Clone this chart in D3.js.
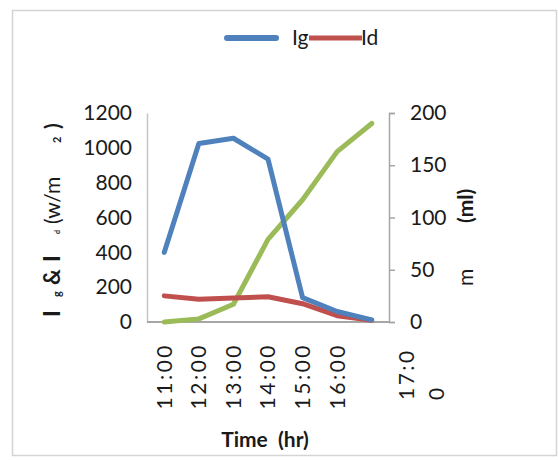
<!DOCTYPE html>
<html>
<head>
<meta charset="utf-8">
<script src="https://cdn.jsdelivr.net/npm/d3@7"></script>
<style>
  html, body { margin: 0; padding: 0; background: #fff; }
  svg { display: block; font-family: Lato, "Liberation Sans", sans-serif; }
</style>
</head>
<body>
<svg id="chart" width="558" height="460"></svg>
<script>
// Hourly readings
const times = ["11:00", "12:00", "13:00", "14:00", "15:00", "16:00", "17:00"];
const ig = [400, 1025, 1055, 935, 140, 60, 12];     // global radiation, W/m²
const id = [150, 130, 138, 145, 105, 36, 10];       // diffuse radiation, W/m²
const yieldMl = [0, 3, 17, 79, 117, 163, 190];      // collected volume, ml
const leftTicks = [0, 200, 400, 600, 800, 1000, 1200];
const rightTicks = [0, 50, 100, 150, 200];

const colors = { ig: "#4F81BD", id: "#C0504D", ml: "#9BBB59" };

const svg = d3.select("#chart");
const plot = { left: 147, right: 389, top: 113, bottom: 322 };

// chart frame
svg.append("rect")
  .attr("x", 12.5).attr("y", 10.5).attr("width", 544).attr("height", 445)
  .attr("fill", "#fff").attr("stroke", "#d4d4d4").attr("stroke-width", 1.5);

const x = d3.scalePoint().domain(times).range([plot.left, plot.right]).padding(0.5);
const yL = d3.scaleLinear().domain([0, 1200]).range([plot.bottom, plot.top]);
const yR = d3.scaleLinear().domain([0, 200]).range([plot.bottom, plot.top]);

// left axis
const gL = svg.append("g").attr("transform", `translate(${plot.left},0)`)
  .call(d3.axisLeft(yL).tickValues(leftTicks).tickFormat(d3.format("d"))
    .tickSize(0).tickPadding(15).tickSizeOuter(0));
gL.select(".domain").attr("stroke", "#c4c4c4").attr("stroke-width", 1.5);
gL.selectAll("text").attr("font-size", 21).attr("fill", "#1a1a1a").attr("font-family", "Lato");

// right axis
const gR = svg.append("g").attr("transform", `translate(${plot.right},0)`)
  .call(d3.axisRight(yR).tickValues(rightTicks).tickFormat(d3.format("d"))
    .tickSize(6).tickPadding(15).tickSizeOuter(6));
gR.select(".domain").attr("stroke", "#a6a6a6").attr("stroke-width", 1.5);
gR.selectAll(".tick line").attr("stroke", "#a6a6a6").attr("stroke-width", 1.5);
gR.selectAll("text").attr("font-size", 21).attr("fill", "#1a1a1a").attr("font-family", "Lato");

// x axis baseline
svg.append("line")
  .attr("x1", plot.left).attr("x2", plot.right)
  .attr("y1", plot.bottom).attr("y2", plot.bottom)
  .attr("stroke", "#a6a6a6").attr("stroke-width", 2);

// category labels, rotated
const labelTop = 343;
const wrapShift = 35;
times.forEach((t, i) => {
  if (i < times.length - 1) {
    svg.append("text")
      .attr("transform", `translate(${x(t)},${labelTop}) rotate(-90)`)
      .attr("text-anchor", "end").attr("dy", "0.35em")
      .attr("font-size", 21).attr("letter-spacing", 2.5).attr("fill", "#1a1a1a")
      .text(t);
  } else {
    // last label wraps onto a second line
    const tx = svg.append("text")
      .attr("transform", `translate(${x(t) + wrapShift},400) rotate(-90)`)
      .attr("text-anchor", "start")
      .attr("font-size", 21).attr("letter-spacing", 2.5).attr("fill", "#1a1a1a");
    tx.append("tspan").attr("x", 0).attr("dy", "0.35em").text(t.slice(0, 4));
    tx.append("tspan").attr("x", 0).attr("dy", 30).text(t.slice(4));
  }
});

// series
const lineL = d3.line().x((d, i) => x(times[i])).y(d => yL(d));
const lineR = d3.line().x((d, i) => x(times[i])).y(d => yR(d));

svg.append("path").datum(yieldMl).attr("d", lineR)
  .attr("fill", "none").attr("stroke", colors.ml).attr("stroke-width", 5)
  .attr("stroke-linejoin", "round").attr("stroke-linecap", "round");
svg.append("path").datum(id).attr("d", lineL)
  .attr("fill", "none").attr("stroke", colors.id).attr("stroke-width", 5)
  .attr("stroke-linejoin", "round").attr("stroke-linecap", "round");
svg.append("path").datum(ig).attr("d", lineL)
  .attr("fill", "none").attr("stroke", colors.ig).attr("stroke-width", 5)
  .attr("stroke-linejoin", "round").attr("stroke-linecap", "round");

// legend
svg.append("line").attr("x1", 227).attr("x2", 276).attr("y1", 38).attr("y2", 38)
  .attr("stroke", colors.ig).attr("stroke-width", 6).attr("stroke-linecap", "round");
svg.append("text").attr("x", 292).attr("y", 45).attr("font-size", 21).attr("fill", "#1a1a1a").text("Ig");
svg.append("line").attr("x1", 309).attr("x2", 362).attr("y1", 38).attr("y2", 38)
  .attr("stroke", colors.id).attr("stroke-width", 5);
svg.append("text").attr("x", 361).attr("y", 45).attr("font-size", 21).attr("fill", "#1a1a1a").text("Id");

// x axis title
svg.append("text").attr("x", 265).attr("y", 447).attr("text-anchor", "middle")
  .attr("font-size", 21).attr("font-weight", "bold").attr("fill", "#1a1a1a")
  .attr("xml:space", "preserve").text("Time  (hr)");

// rotated title pieces: [text, baseline x, start y, size, weight]
function rotated(pieces) {
  pieces.forEach(([txt, bx, by, size, weight]) => {
    svg.append("text")
      .attr("transform", `translate(${bx},${by}) rotate(-90)`)
      .attr("text-anchor", "start")
      .attr("font-size", size).attr("font-weight", weight).attr("fill", "#1a1a1a")
      .text(txt);
  });
}

// left axis title: Ig & Id (w/m2)
rotated([
  ["I", 60, 317, 22, 900],
  ["g", 61, 297, 11, "bold"],
  ["&", 60, 285, 22, "bold"],
  ["I", 60, 262, 22, 900],
  ["d", 60, 234, 7, "bold"],
  ["(w/m", 60, 224, 21, "normal"],
  ["2", 61, 143, 11, "bold"],
  [")", 60, 129, 21, "bold"]
]);

// right axis title
rotated([
  ["m", 473, 286, 21, "normal"],
  ["(ml)", 473, 223, 21, "bold"]
]);
</script>
</body>
</html>
